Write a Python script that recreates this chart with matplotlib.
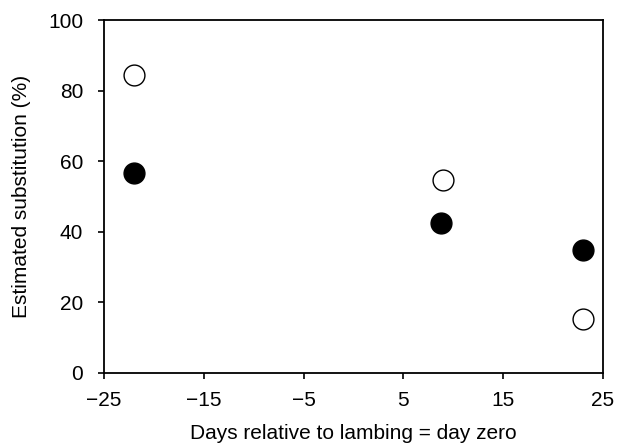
import matplotlib.pyplot as plt

plt.rcParams['font.family'] = ['Liberation Sans', 'DejaVu Sans']

# substitution estimates by day relative to lambing
days_filled = [-22, 8.8, 23]
subst_filled = [56.8, 42.4, 34.8]
days_open = [-22, 9, 23]
subst_open = [84.3, 54.8, 15.2]

fig = plt.figure(figsize=(6.17, 4.45), dpi=100)
ax = fig.add_axes([0.1686, 0.1618, 0.8084, 0.7932])

ax.plot(days_open, subst_open, 'o', ms=15, mfc='white', mec='black', mew=1.0, ls='none')
ax.plot(days_filled, subst_filled, 'o', ms=15, mfc='black', mec='black', ls='none')

ax.set_xlim(-25, 25)
ax.set_ylim(0, 100)
ax.set_xticks([-25, -15, -5, 5, 15, 25])
ax.set_xticklabels(['\u221225', '\u221215', '\u22125', '5', '15', '25'])
ax.set_yticks([0, 20, 40, 60, 80, 100])
ax.tick_params(direction='out', length=4, width=1.2, labelsize=15)
ax.tick_params(axis='x', pad=9)
ax.tick_params(axis='y', pad=11)

for s in ax.spines.values():
    s.set_linewidth(1.3)

ax.set_xlabel('Days relative to lambing = day zero', fontsize=15, labelpad=10)
ax.set_ylabel('Estimated substitution (%)', fontsize=15, labelpad=12)

fig.savefig('out.png', dpi=100)
